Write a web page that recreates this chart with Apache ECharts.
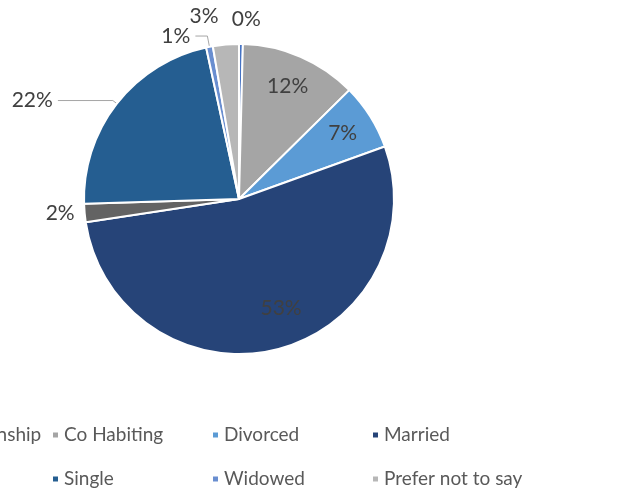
<!DOCTYPE html>
<html>
<head>
    <meta charset="utf-8">
    <title>Relationship status</title>
    <script src="https://cdn.jsdelivr.net/npm/echarts@6/dist/echarts.min.js"></script>
    <style>
        html, body { margin: 0; padding: 0; background: #ffffff; }
        #chart { width: 621px; height: 493px; }
    </style>
</head>
<body>
<div id="chart"></div>
<script>
    // 数据
    var categories = ['In a Relationship', 'Co Habiting', 'Divorced', 'Married',
                      'Separated', 'Single', 'Widowed', 'Prefer not to say'];
    var shares = [0.4, 12.2, 6.9, 53.1, 1.9, 22.1, 0.7, 2.7];
    var colors = ['#4472C4', '#A5A5A5', '#5B9BD5', '#264478',
                  '#636363', '#255E91', '#698ED0', '#B7B7B7'];

    // 哪些标签放在扇区里面
    var insideIdx = [1, 2, 3];
    // 外部标签的引导线 (length, length2, 是否显示)
    var outerLines = {
        0: [25, 0, false],
        4: [3, 2, false],
        5: [5, 55, true],
        6: [11, 12, true],
        7: [28, 0, false]
    };

    var labelFont = { color: '#404040', fontSize: 21, fontFamily: 'Lato' };
    var fmt = function (p) { return Math.round(p.percent) + '%'; };

    var outerData = categories.map(function (name, i) {
        var inside = insideIdx.indexOf(i) >= 0;
        var ln = outerLines[i] || [0, 0, false];
        return {
            name: name,
            value: shares[i],
            itemStyle: { color: colors[i] },
            label: { show: !inside, position: 'outside' },
            labelLine: { show: !inside && ln[2], length: ln[0], length2: ln[1] }
        };
    });

    var innerData = categories.map(function (name, i) {
        return {
            name: name,
            value: shares[i],
            label: { show: insideIdx.indexOf(i) >= 0 }
        };
    });

    var chart = echarts.init(document.getElementById('chart'));

    var legendBase = {
        orient: 'horizontal',
        left: -109,
        width: 760,
        padding: 0,
        itemGap: 0,
        itemWidth: 7,
        itemHeight: 7,
        icon: 'rect',
        selectedMode: false,
        textStyle: {
            color: '#595959',
            fontSize: 19,
            fontFamily: 'Lato',
            width: 147,
            lineHeight: 22
        }
    };

    var option = {
        animation: false,
        legend: [
            Object.assign({}, legendBase, { top: 424, data: categories.slice(0, 4) }),
            Object.assign({}, legendBase, { top: 468, data: categories.slice(4) })
        ],
        series: [
            {
                name: 'outer',
                type: 'pie',
                center: [239, 199],
                radius: 155,
                startAngle: 90,
                clockwise: true,
                avoidLabelOverlap: false,
                itemStyle: { borderColor: '#ffffff', borderWidth: 2 },
                label: Object.assign({ formatter: fmt }, labelFont),
                labelLine: { lineStyle: { color: '#A6A6A6', width: 1 } },
                labelLayout: function (params) {
                    if (params.dataIndex === 0) {
                        return { align: 'center' };
                    }
                },
                emphasis: { disabled: true },
                data: outerData
            },
            {
                name: 'inner',
                type: 'pie',
                center: [239, 199],
                radius: [84, 155],
                startAngle: 90,
                clockwise: true,
                silent: true,
                avoidLabelOverlap: false,
                itemStyle: { color: 'transparent', borderWidth: 0 },
                label: Object.assign({ position: 'inside', formatter: fmt }, labelFont),
                labelLine: { show: false },
                labelLayout: function (params) {
                    // Married 的标签稍微往右上偏
                    if (params.dataIndex === 3) {
                        return { dx: 12, dy: -10 };
                    }
                },
                emphasis: { disabled: true },
                data: innerData
            }
        ]
    };
    chart.setOption(option);
</script>
</body>
</html>
